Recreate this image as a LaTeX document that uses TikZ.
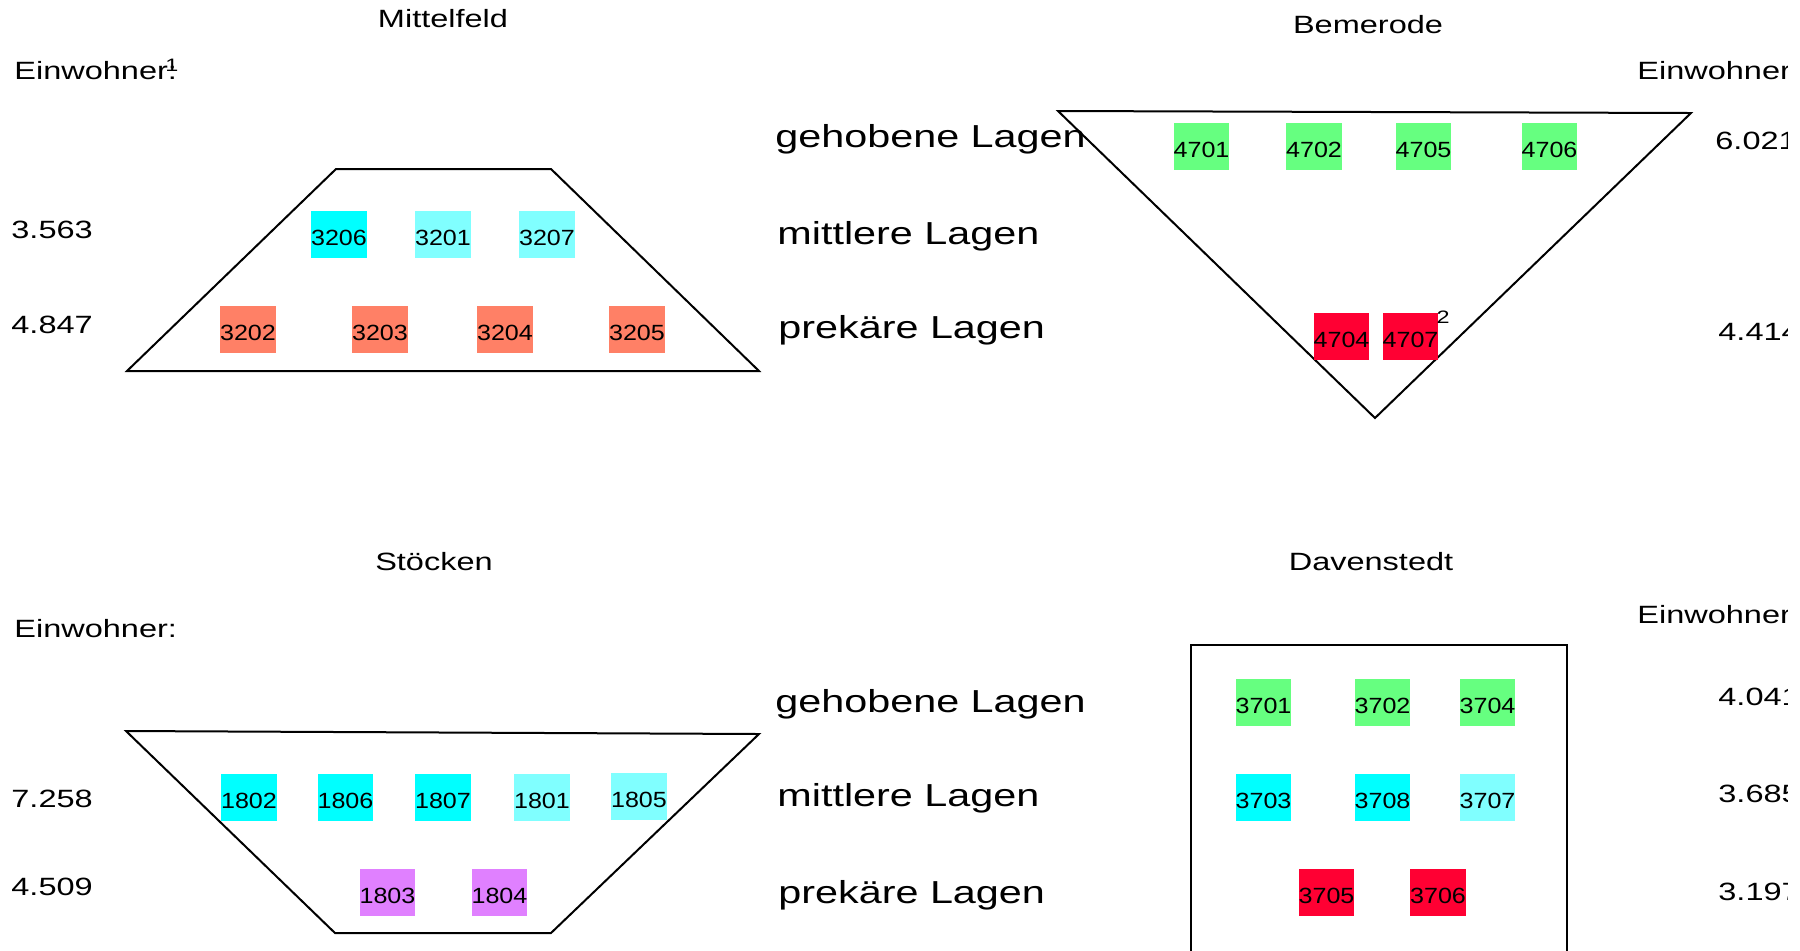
\documentclass[tikz,border=0pt]{standalone}
\usepackage{fontspec}
\setmainfont{Liberation Sans}[FakeStretch=1.3]
\newfontfamily\areafont{Liberation Sans}[FakeStretch=1.14]
\usetikzlibrary{positioning}

\definecolor{cyanfull}{RGB}{0,255,255}
\definecolor{cyanlight}{RGB}{128,255,255}
\definecolor{salmonbox}{RGB}{255,128,102}
\definecolor{greenbox}{RGB}{102,255,128}
\definecolor{redbox}{RGB}{255,0,51}
\definecolor{violetbox}{RGB}{224,128,255}

\begin{document}
\begin{tikzpicture}[x=0.5pt,y=-0.5pt,
                    area/.style={rectangle,minimum width=25pt,minimum height=23.5pt,
                                 inner sep=0pt,text height=11.1pt,text depth=0pt,
                                 font=\areafont\fontsize{11}{11}\selectfont},
                    layer label/.style={anchor=west,inner sep=0pt,font=\fontsize{15.9}{18}\selectfont},
                    count label/.style={anchor=west,inner sep=0pt,font=\fontsize{12.5}{14}\selectfont},
                    title label/.style={inner sep=0pt,font=\fontsize{12.5}{14}\selectfont},
                    note mark/.style={inner sep=0pt,font=\fontsize{9}{10}\selectfont},
                    outline/.style={line width=1pt,line join=miter}]

  \useasboundingbox (0,0) rectangle (1800,950);
  \clip (0,0) rectangle (1787,950);

  % Mittelfeld
  \draw[outline] (336,169) -- (551,169) -- (759,371) -- (127,371) -- cycle;
  \node[title label] (mtitle) at (443,19) {Mittelfeld};
  \node[count label] (mew) at (14,71) {Einwohner:};
  \node[note mark] (mnote) at (172,65) {1};
  \node[count label] (mmid) at (11,230) {3.563};
  \node[count label] (mpre) at (11,325) {4.847};
  \node[area,fill=cyanfull]  (3206) at (339,234.5) {3206};
  \node[area,fill=cyanlight] (3201) at (443,234.5) {3201};
  \node[area,fill=cyanlight] (3207) at (547,234.5) {3207};
  \node[area,fill=salmonbox] (3202) at (248,329) {3202};
  \node[area,fill=salmonbox] (3203) at (380,329) {3203};
  \node[area,fill=salmonbox] (3204) at (505,329) {3204};
  \node[area,fill=salmonbox] (3205) at (637,329) {3205};

  % Lagen (oben)
  \node[layer label] (geh1) at (775,139) {gehobene Lagen};
  \node[layer label] (mit1) at (777,236) {mittlere Lagen};
  \node[layer label] (pre1) at (778,330) {prekäre Lagen};

  % Bemerode
  \draw[outline] (1058,111) -- (1691,113) -- (1375,418) -- cycle;
  \node[title label] (btitle) at (1368,25) {Bemerode};
  \node[count label] (bew) at (1637,71) {Einwohner:};
  \node[count label] (bgeh) at (1715,141) {6.021};
  \node[count label] (bpre) at (1718,332) {4.414};
  \node[area,fill=greenbox] (4701) at (1201.5,146.5) {4701};
  \node[area,fill=greenbox] (4702) at (1314,146.5) {4702};
  \node[area,fill=greenbox] (4705) at (1423.5,146.5) {4705};
  \node[area,fill=greenbox] (4706) at (1549.5,146.5) {4706};
  \node[area,fill=redbox]   (4704) at (1341.5,336.5) {4704};
  \node[area,fill=redbox]   (4707) at (1410.5,336.5) {4707};
  \node[note mark] (bnote) at (1443,317) {2};

  % Stoecken
  \draw[outline] (126,731) -- (759,734) -- (551,933) -- (335,933) -- cycle;
  \node[title label] (stitle) at (434,562) {Stöcken};
  \node[count label] (sew) at (14,629) {Einwohner:};
  \node[count label] (smid) at (11,799) {7.258};
  \node[count label] (spre) at (11,887) {4.509};
  \node[area,fill=cyanfull]  (1802) at (249,797) {1802};
  \node[area,fill=cyanfull]  (1806) at (345.5,797) {1806};
  \node[area,fill=cyanfull]  (1807) at (443,797) {1807};
  \node[area,fill=cyanlight] (1801) at (542,797) {1801};
  \node[area,fill=cyanlight] (1805) at (639,796) {1805};
  \node[area,fill=violetbox] (1803) at (387.5,892) {1803};
  \node[area,fill=violetbox] (1804) at (499.5,892) {1804};

  % Lagen (unten)
  \node[layer label] (geh2) at (775,704) {gehobene Lagen};
  \node[layer label] (mit2) at (777,798) {mittlere Lagen};
  \node[layer label] (pre2) at (778,895) {prekäre Lagen};

  % Davenstedt
  \draw[outline] (1191,980) -- (1191,645) -- (1567,645) -- (1567,980);
  \node[title label] (dtitle) at (1371,562) {Davenstedt};
  \node[count label] (dew) at (1637,615) {Einwohner:};
  \node[count label] (dgeh) at (1718,697) {4.041};
  \node[count label] (dmid) at (1718,794) {3.685};
  \node[count label] (dpre) at (1718,892) {3.197};
  \node[area,fill=greenbox]  (3701) at (1263.5,702) {3701};
  \node[area,fill=greenbox]  (3702) at (1382.5,702) {3702};
  \node[area,fill=greenbox]  (3704) at (1487.5,702) {3704};
  \node[area,fill=cyanfull]  (3703) at (1263.5,797) {3703};
  \node[area,fill=cyanfull]  (3708) at (1382.5,797) {3708};
  \node[area,fill=cyanlight] (3707) at (1487.5,797) {3707};
  \node[area,fill=redbox]    (3705) at (1326.5,892) {3705};
  \node[area,fill=redbox]    (3706) at (1438,892) {3706};
\end{tikzpicture}
\end{document}
